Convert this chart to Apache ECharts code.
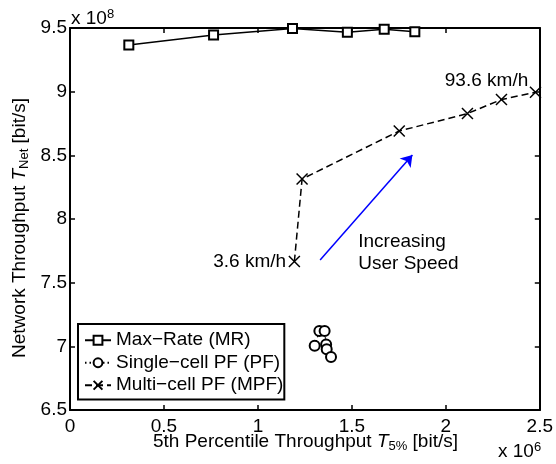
<!DOCTYPE html>
<html><head><meta charset="utf-8">
<script src="https://cdn.jsdelivr.net/npm/echarts@6/dist/echarts.min.js"></script>
<style>html,body{margin:0;padding:0;background:#fff}#c{width:556px;height:464px}</style>
</head><body><div id="c"></div>
<script>
// ---- data ----
const xTicks = [0, 0.5, 1, 1.5, 2, 2.5];
const yTicks = [6.5, 7, 7.5, 8, 8.5, 9, 9.5];
const seriesNames = ['Max\u2212Rate (MR)', 'Single\u2212cell PF (PF)', 'Multi\u2212cell PF (MPF)'];
const mrX = [0.313, 0.764, 1.184, 1.476, 1.672, 1.835];
const mrY = [9.366, 9.445, 9.497, 9.466, 9.490, 9.471];
const pfX = [1.302, 1.327, 1.355, 1.363, 1.366, 1.389];
const pfY = [7.004, 7.120, 7.120, 7.015, 6.978, 6.916];
const mpfX = [1.194, 1.235, 1.752, 2.115, 2.296, 2.477];
const mpfY = [7.666, 8.314, 8.691, 8.828, 8.938, 8.995];
const speedLabels = ['3.6 km/h', '93.6 km/h'];
const arrowFrom = [1.331, 7.678];
const arrowTo = [1.822, 8.503];
const noteText = ['Increasing', 'User Speed'];
const noteAt = [1.534, 7.736];
const xExp = '6', yExp = '8';

// ---- chart ----
const FONT = '"Liberation Sans", Arial, Helvetica, sans-serif';
const FS = 19;
const zip = (xs, ys) => xs.map((x, i) => [x, ys[i]]);

const baseAxis = {
  type: 'value',
  axisLine: { show: true, onZero: false, lineStyle: { color: '#000', width: 2 } },
  axisTick: { show: true, inside: true, length: 5, lineStyle: { color: '#000', width: 1.5 } },
  splitLine: { show: false },
  axisLabel: { color: '#000', fontSize: FS, fontFamily: FONT }
};

const mpfData = mpfX.map((x, i) => {
  const d = { value: [x, mpfY[i]] };
  if (i === 0) d.label = { show: true, position: 'left', distance: 2, formatter: speedLabels[0] };
  if (i === mpfX.length - 1) d.label = { show: true, position: 'left', distance: 1, offset: [0, -12], formatter: speedLabels[1] };
  return d;
});

const labelStyle = { color: '#000', fontSize: FS, fontFamily: FONT };

const option = {
  animation: false,
  backgroundColor: '#fff',
  textStyle: { fontFamily: FONT },
  grid: { left: 70, right: 15, top: 28, bottom: 54, containLabel: false },
  xAxis: [
    Object.assign({}, baseAxis, { position: 'bottom', min: xTicks[0], max: xTicks[xTicks.length - 1], interval: xTicks[1] - xTicks[0],
      axisLabel: Object.assign({}, baseAxis.axisLabel, { margin: 7 }) }),
    Object.assign({}, baseAxis, { position: 'top', min: xTicks[0], max: xTicks[xTicks.length - 1], interval: xTicks[1] - xTicks[0],
      axisLabel: { show: false } })
  ],
  yAxis: [
    Object.assign({}, baseAxis, { position: 'left', min: yTicks[0], max: yTicks[yTicks.length - 1], interval: yTicks[1] - yTicks[0],
      axisLabel: Object.assign({}, baseAxis.axisLabel, { margin: 3 }) }),
    Object.assign({}, baseAxis, { position: 'right', min: yTicks[0], max: yTicks[yTicks.length - 1], interval: yTicks[1] - yTicks[0],
      axisLabel: { show: false } })
  ],
  legend: {
    data: seriesNames,
    orient: 'vertical',
    left: 78, top: 324,
    padding: [5, 1, 3, 6],
    itemGap: 0,
    itemWidth: 26, itemHeight: 11,
    borderColor: '#000', borderWidth: 2, backgroundColor: '#fff',
    textStyle: { color: '#000', fontSize: FS, fontFamily: FONT, lineHeight: 22.5 }
  },
  series: [
    {
      name: seriesNames[0], type: 'line', data: zip(mrX, mrY),
      symbol: 'emptyRect', symbolSize: 9,
      lineStyle: { color: '#000', width: 1.5 },
      itemStyle: { color: '#000', borderColor: '#000', borderWidth: 1.3 },
      z: 3
    },
    {
      name: seriesNames[1], type: 'line', data: zip(pfX, pfY),
      symbol: 'emptyCircle', symbolSize: 10,
      lineStyle: { color: '#000', width: 1.3, type: [1.5, 3] },
      itemStyle: { color: '#000', borderColor: '#000', borderWidth: 1.3 },
      z: 3
    },
    {
      name: seriesNames[2], type: 'line', data: mpfData,
      symbol: 'path://M0,0L10,10M10,0L0,10', symbolSize: 11,
      lineStyle: { color: '#000', width: 1.5, type: [7, 4] },
      itemStyle: { color: '#000', borderColor: '#000', borderWidth: 1.5 },
      label: labelStyle,
      z: 3,
      markLine: {
        silent: true, animation: false,
        symbol: ['none', 'arrow'], symbolSize: 11,
        label: { show: false },
        lineStyle: { color: '#0000ff', width: 1.5, type: 'solid' },
        itemStyle: { color: '#0000ff' },
        emphasis: { disabled: true },
        data: [[{ coord: arrowFrom }, { coord: arrowTo }]]
      },
      markPoint: {
        silent: true, animation: false,
        symbol: 'circle', symbolSize: 0,
        itemStyle: { color: 'transparent' },
        label: { show: true, position: 'right', distance: 0, align: 'left',
          formatter: noteText.join('\n'), color: '#000', fontSize: FS, fontFamily: FONT, lineHeight: 22 },
        data: [{ coord: noteAt }]
      }
    }
  ],
  graphic: [
    {
      type: 'text', x: 20, y: 228, rotation: Math.PI / 2, silent: true,
      style: {
        text: '{n|Network Throughput }{i|T}{s|Net}{n| [bit/s]}',
        align: 'center', verticalAlign: 'middle', textAlign: 'center', textVerticalAlign: 'middle',
        fill: '#000', font: FS + 'px ' + FONT,
        rich: {
          n: { fontSize: FS, fontFamily: FONT, lineHeight: 22, fill: '#000', color: '#000' },
          i: { fontSize: FS, fontFamily: FONT, fontStyle: 'italic', lineHeight: 22, fill: '#000', color: '#000' },
          s: { fontSize: 13, fontFamily: FONT, lineHeight: 4, verticalAlign: 'bottom', fill: '#000', color: '#000' }
        }
      }
    },
    {
      type: 'text', x: 305.5, y: 442, silent: true,
      style: {
        text: '{n|5th Percentile Throughput }{i|T}{s|5%}{n| [bit/s]}',
        align: 'center', verticalAlign: 'middle', textAlign: 'center', textVerticalAlign: 'middle',
        fill: '#000', font: FS + 'px ' + FONT,
        rich: {
          n: { fontSize: FS, fontFamily: FONT, lineHeight: 22, fill: '#000', color: '#000' },
          i: { fontSize: FS, fontFamily: FONT, fontStyle: 'italic', lineHeight: 22, fill: '#000', color: '#000' },
          s: { fontSize: 13, fontFamily: FONT, lineHeight: 4, verticalAlign: 'bottom', fill: '#000', color: '#000' }
        }
      }
    },
    {
      type: 'text', x: 71, y: 19, silent: true,
      style: {
        text: '{n|x 10}{p|' + yExp + '}',
        align: 'left', verticalAlign: 'middle', textAlign: 'left', textVerticalAlign: 'middle',
        fill: '#000', font: FS + 'px ' + FONT,
        rich: {
          n: { fontSize: FS, fontFamily: FONT, lineHeight: 22, fill: '#000', color: '#000' },
          p: { fontSize: 13, fontFamily: FONT, lineHeight: 1, verticalAlign: 'top', fill: '#000', color: '#000' }
        }
      }
    },
    {
      type: 'text', x: 498, y: 452, silent: true,
      style: {
        text: '{n|x 10}{p|' + xExp + '}',
        align: 'left', verticalAlign: 'middle', textAlign: 'left', textVerticalAlign: 'middle',
        fill: '#000', font: FS + 'px ' + FONT,
        rich: {
          n: { fontSize: FS, fontFamily: FONT, lineHeight: 22, fill: '#000', color: '#000' },
          p: { fontSize: 13, fontFamily: FONT, lineHeight: 1, verticalAlign: 'top', fill: '#000', color: '#000' }
        }
      }
    }
  ]
};

const chart = echarts.init(document.getElementById('c'), null, { renderer: 'canvas' });
chart.setOption(option);
</script>
</body></html>
